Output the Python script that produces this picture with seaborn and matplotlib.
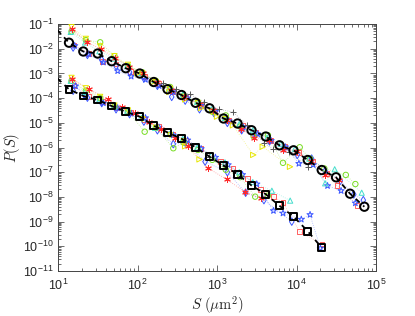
import numpy as np
import pandas as pd
import matplotlib
matplotlib.use("Agg")
import matplotlib.pyplot as plt
import seaborn as sns

# ---------------- data (log10 values) ----------------
# black averaged curves (upper: circles, lower: squares)
logS_black = [1.138, 1.318, 1.499, 1.675, 1.852, 2.028, 2.204, 2.377, 2.553, 2.730, 2.906,
              3.082, 3.258, 3.434, 3.613, 3.786, 3.962, 4.141, 4.317, 4.497, 4.673, 4.853]
logP_circles = [-1.757, -2.113, -2.194, -2.506, -2.789, -3.004, -3.348, -3.640, -3.874, -4.190, -4.413,
                -4.826, -5.028, -5.300, -5.555, -5.911, -6.113, -6.506, -6.911, -7.206, -7.870, -8.397]
logP_squares = [-3.644, -3.915, -4.077, -4.320, -4.551, -4.753, -5.117, -5.389, -5.644, -5.992, -6.372,
                -6.729, -7.081, -7.538, -7.891, -8.360, -8.793, -9.389, -10.057]
# dashed line starts slightly left of the first marker
logS_line_start = 0.991
logP_line_start_A = -1.243
logP_line_start_B = -3.198

# ---- upper group (circles) ----
A_red_star_S = [1.18, 1.36, 1.54, 1.72, 1.89, 2.07, 2.24, 2.42, 2.59, 2.77, 2.95, 3.12, 3.30, 3.47, 3.65, 3.83, 4.00, 4.18, 4.36, 4.54]
A_red_star_P = [-1.22, -1.72, -2.02, -2.38, -2.75, -3.00, -3.35, -3.68, -3.95, -4.25, -4.50, -4.88, -5.25, -5.60, -5.70, -6.10, -6.15, -6.55, -7.10, -7.30]
A_red_sq_S = [1.20, 1.38, 1.56, 1.73, 1.91, 2.09, 2.26, 2.44, 2.61, 2.79, 2.97, 3.14, 3.32, 3.49, 3.67, 3.85, 4.02, 4.20, 4.38, 4.51, 4.76]
A_red_sq_P = [-1.85, -2.20, -2.52, -2.62, -2.92, -3.12, -3.42, -3.72, -3.98, -4.30, -4.52, -4.90, -5.12, -5.40, -5.70, -5.95, -6.20, -6.55, -7.05, -7.55, -8.35]
A_blue_star_S = [1.21, 1.39, 1.57, 1.75, 1.92, 2.10, 2.27, 2.45, 2.63, 2.80, 2.98, 3.15, 3.33, 3.51, 3.68, 3.86, 4.03, 4.21, 4.39, 4.56, 4.74]
A_blue_star_P = [-1.88, -2.22, -2.55, -2.90, -3.12, -3.25, -3.50, -3.75, -4.00, -4.30, -4.55, -4.92, -5.18, -5.45, -5.72, -5.98, -6.65, -6.70, -7.55, -7.75, -8.25]
A_blue_dia_S = [1.19, 1.37, 1.55, 1.73, 1.90, 2.08, 2.25, 2.43, 2.60, 2.78, 2.96, 3.13, 3.31, 3.48, 3.66, 3.84, 4.01, 4.19, 4.36, 4.55, 4.72, 4.84]
A_blue_dia_P = [-1.95, -2.25, -2.45, -2.70, -2.95, -3.20, -3.50, -3.95, -4.10, -4.45, -4.60, -5.00, -5.30, -5.50, -5.75, -6.05, -6.30, -6.45, -6.95, -7.35, -7.90, -8.13]
A_green_S = [1.17, 1.35, 1.53, 1.71, 1.88, 2.06, 2.23, 2.41, 2.58, 2.76, 2.94, 3.11, 3.29, 3.46, 3.64, 3.83, 4.04, 4.17, 4.35, 4.62, 4.74]
A_green_P = [-1.30, -1.65, -1.74, -2.30, -2.70, -2.95, -3.30, -3.55, -3.90, -4.15, -4.55, -4.70, -5.15, -5.55, -5.50, -6.62, -5.99, -6.45, -6.85, -7.11, -7.48]
A_cyan_S = [1.16, 1.34, 1.52, 1.70, 1.87, 2.05, 2.22, 2.40, 2.57, 2.75, 2.93, 3.10, 3.28, 3.45, 3.63, 3.80, 3.98, 4.16, 4.36, 4.48, 4.82]
A_cyan_P = [-1.32, -1.75, -2.10, -2.40, -2.70, -2.98, -3.30, -3.62, -3.85, -4.15, -4.45, -4.80, -5.05, -5.30, -5.60, -5.85, -6.05, -6.45, -7.45, -6.88, -7.83]
A_yel_v_S = [1.17, 1.35, 1.53, 1.71, 1.88, 2.06, 2.23, 2.41, 2.58, 2.76, 2.93, 3.11]
A_yel_v_P = [-1.12, -1.60, -1.90, -2.30, -2.65, -3.00, -3.35, -3.62, -3.95, -4.20, -4.55, -4.85]
A_yel_r_S = [2.00, 2.20, 2.40, 2.60, 2.80, 3.00, 3.20, 3.456, 3.575, 3.918]
A_yel_r_P = [-3.00, -3.35, -3.75, -4.05, -4.40, -4.75, -5.10, -6.30, -5.97, -6.78]
A_plus_S = [2.32, 2.49, 2.66, 2.84, 3.02, 3.20, 3.38, 3.59, 3.70, 3.90, 4.15]
A_plus_P = [-3.38, -3.65, -3.85, -4.15, -4.45, -4.56, -5.10, -5.80, -6.07, -6.20, -6.78]

# ---- lower group (squares) ----
B_red_star_S = [1.18, 1.39, 1.63, 1.80, 1.97, 2.14, 2.30, 2.47, 2.64, 2.89, 3.12, 3.35, 3.55]
B_red_star_P = [-3.24, -3.64, -4.05, -4.35, -4.62, -4.95, -5.25, -5.60, -5.95, -6.84, -7.29, -7.79, -8.05]
B_red_sq_S = [1.20, 1.38, 1.56, 1.73, 1.91, 2.09, 2.26, 2.44, 2.61, 2.79, 3.04, 3.20, 3.38, 3.55, 3.71, 3.83, 4.04, 4.32]
B_red_sq_P = [-3.50, -3.92, -4.15, -4.40, -4.58, -4.85, -5.15, -5.45, -5.70, -6.05, -6.57, -6.85, -7.25, -7.70, -7.99, -8.23, -9.41, -9.91]
B_blue_star_S = [1.22, 1.34, 1.57, 1.75, 1.92, 2.10, 2.27, 2.45, 2.63, 2.80, 2.98, 3.14, 3.32, 3.50, 3.71, 3.83, 4.06, 4.17, 4.30]
B_blue_star_P = [-3.51, -3.91, -4.20, -4.40, -4.62, -4.80, -5.18, -5.50, -5.70, -6.05, -6.40, -6.70, -7.10, -7.48, -8.56, -8.66, -8.91, -8.72, -10.08]
B_blue_dia_S = [1.19, 1.37, 1.55, 1.73, 1.90, 2.08, 2.25, 2.45, 2.60, 2.85, 3.13, 3.36, 3.59, 3.94]
B_blue_dia_P = [-3.70, -3.98, -4.20, -4.45, -4.65, -4.95, -5.30, -5.86, -5.80, -6.57, -7.00, -7.83, -8.13, -9.00]
B_green_S = [1.17, 1.35, 1.53, 1.71, 1.88, 2.09, 2.23, 2.45, 2.58, 2.76, 2.94, 3.11, 3.29, 3.48, 3.64]
B_green_P = [-3.30, -3.70, -4.00, -4.35, -4.55, -5.36, -5.20, -6.03, -5.80, -6.10, -6.50, -6.90, -7.20, -7.99, -7.95]
B_cyan_S = [1.16, 1.34, 1.52, 1.70, 1.87, 2.05, 2.22, 2.40, 2.57, 2.75, 2.93, 3.10, 3.28, 3.45, 3.69, 3.92]
B_cyan_P = [-3.30, -3.75, -4.05, -4.35, -4.55, -4.80, -5.20, -5.45, -5.65, -6.00, -6.30, -6.60, -7.00, -7.40, -7.75, -8.15]
B_yel_v_S = [1.17, 1.35, 1.53, 1.71, 1.88, 2.06, 2.23, 2.41, 2.58]
B_yel_v_P = [-3.18, -3.60, -3.95, -4.30, -4.50, -4.85, -5.20, -5.50, -5.75]
B_yel_r_S = [2.60, 2.78]
B_yel_r_P = [-5.95, -6.48]
B_plus_S = [2.90, 3.10, 3.30]
B_plus_P = [-6.40, -6.75, -7.15]

# ---------------- styling ----------------
sns.set_style("ticks")
plt.rcParams["font.family"] = ["Liberation Sans", "DejaVu Sans"]
plt.rcParams["mathtext.fontset"] = "cm"

RED = "#ff2a2a"
REDSQ = "#ff6060"
BLUE = "#3a55ff"
GREEN = "#77dd22"
CYAN = "#44ddcc"
YELLOW = "#e6e600"
GRAY = "#555555"

fig = plt.figure(figsize=(4.15, 3.16), dpi=100)
ax = fig.add_axes([0.1398, 0.1424, 0.7663, 0.7816])

def series(S, P, marker, color, filled=False, size=13, lw=0.7):
    x = np.power(10.0, S)
    y = np.power(10.0, P)
    sns.lineplot(x=x, y=y, ax=ax, color=color, linestyle=":", linewidth=0.6,
                 estimator=None, sort=False, alpha=0.45, legend=False)
    if filled:
        sns.scatterplot(x=x, y=y, ax=ax, marker=marker, color=color, s=size,
                        linewidth=lw, legend=False, zorder=3)
    else:
        sns.scatterplot(x=x, y=y, ax=ax, marker=marker, facecolor="none",
                        edgecolor=color, s=size, linewidth=lw, legend=False, zorder=3)

asterisk = (6, 2, 0)
groups = [
    (A_red_sq_S, A_red_sq_P, B_red_sq_S, B_red_sq_P, "s", REDSQ, False, 12),
    (A_blue_star_S, A_blue_star_P, B_blue_star_S, B_blue_star_P, "*", BLUE, False, 22),
    (A_blue_dia_S, A_blue_dia_P, B_blue_dia_S, B_blue_dia_P, "d", BLUE, False, 15),
    (A_green_S, A_green_P, B_green_S, B_green_P, "o", GREEN, False, 15),
    (A_cyan_S, A_cyan_P, B_cyan_S, B_cyan_P, "^", CYAN, False, 14),
    (A_yel_v_S, A_yel_v_P, B_yel_v_S, B_yel_v_P, "v", YELLOW, False, 14),
    (A_yel_r_S, A_yel_r_P, B_yel_r_S, B_yel_r_P, ">", YELLOW, False, 15),
    (A_plus_S, A_plus_P, B_plus_S, B_plus_P, "+", GRAY, True, 18),
    (A_red_star_S, A_red_star_P, B_red_star_S, B_red_star_P, asterisk, RED, True, 18),
]
for aS, aP, bS, bP, m, c, f, s in groups:
    series(aS, aP, m, c, f, s)
    series(bS, bP, m, c, f, s)
    if m == asterisk:
        sns.scatterplot(x=np.power(10.0, aS), y=np.power(10.0, aP), ax=ax, marker="o",
                        color=RED, s=5, linewidth=0, legend=False, zorder=3)
        sns.scatterplot(x=np.power(10.0, bS), y=np.power(10.0, bP), ax=ax, marker="o",
                        color=RED, s=5, linewidth=0, legend=False, zorder=3)

# black averaged curves
for P0, P, mk, ms in [(logP_line_start_A, logP_circles, "o", 36),
                      (logP_line_start_B, logP_squares, "s", 24)]:
    S = logS_black[:len(P)]
    xl = np.power(10.0, [logS_line_start] + S)
    yl = np.power(10.0, [P0] + P)
    sns.lineplot(x=xl, y=yl, ax=ax, color="black", linestyle=(0, (3, 2.5)), linewidth=1.3,
                 estimator=None, sort=False, legend=False, zorder=4)
    sns.scatterplot(x=np.power(10.0, S), y=np.power(10.0, P), ax=ax, marker=mk,
                    facecolor="none", edgecolor="black", s=ms, linewidth=1.4,
                    legend=False, zorder=5)

ax.set_xscale("log")
ax.set_yscale("log")
ax.set_xlim(1e1, 1e5)
ax.set_ylim(1e-11, 1e-1)
ax.set_xticks([1e1, 1e2, 1e3, 1e4, 1e5])
ax.set_yticks([10.0 ** k for k in range(-11, 0)])
ax.yaxis.set_minor_locator(matplotlib.ticker.LogLocator(base=10, subs=np.arange(2, 10), numticks=20))
ax.xaxis.set_minor_locator(matplotlib.ticker.LogLocator(base=10, subs=np.arange(2, 10), numticks=20))
ax.tick_params(which="both", direction="in", top=True, right=True, labelsize=9,
               color="#555555", width=0.6)
ax.tick_params(which="major", length=4, pad=3)
ax.tick_params(axis="x", which="major", pad=5)
ax.tick_params(which="minor", length=2)
for sp in ax.spines.values():
    sp.set_visible(True)
    sp.set_linewidth(0.7)
    sp.set_color("#444444")

ax.set_xlabel(r"$S\ (\mu\mathrm{m}^2)$", fontsize=10.5)
ax.xaxis.set_label_coords(0.5, -0.095)
ax.set_ylabel(r"$P(S)$", fontsize=10.5)
ax.yaxis.set_label_coords(-0.112, 0.5)

fig.savefig("out.png", dpi=100)
